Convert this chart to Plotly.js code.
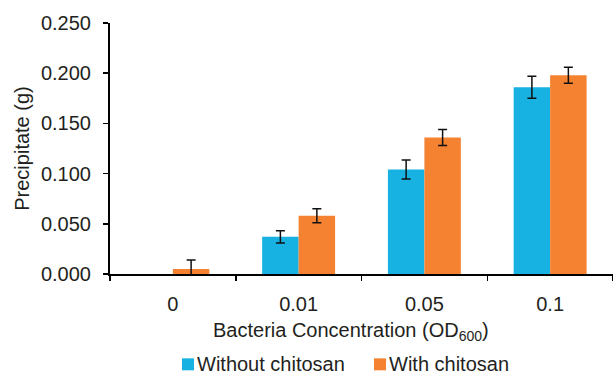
<!DOCTYPE html>
<html>
<head>
<meta charset="utf-8">
<script src="https://cdn.plot.ly/plotly-3.0.1.min.js"></script>
<style>html,body{margin:0;padding:0;background:#fff;}#chart{width:613px;height:374px;}</style>
</head>
<body>
<div id="chart"></div>
<script>
const categories = ["0", "0.01", "0.05", "0.1"];
const seriesNames = ["Without chitosan", "With chitosan"];
const withoutValues = [0, 0.037, 0.104, 0.186];
const withoutErrors = [NaN, 0.006, 0.0095, 0.011];
const withValues = [0.005, 0.058, 0.136, 0.198];
const withErrors = [0.009, 0.007, 0.008, 0.008];
const yTickVals = [0, 0.05, 0.1, 0.15, 0.2, 0.25];
const xTitle = "Bacteria Concentration (OD<sub>600</sub>)";
const yTitle = "Precipitate (g)";

const seriesColors = ["#17b2e2", "#f58231"];
const textColor = "#231f20";
const fontFamily = "Liberation Sans, Arial, sans-serif";

const traces = [
  {
    type: "bar", name: seriesNames[0], x: categories, y: withoutValues,
    marker: {color: seriesColors[0], line: {width: 0}},
    error_y: {type: "data", array: withoutErrors, visible: true, color: "#111", thickness: 1.5, width: 4.5}
  },
  {
    type: "bar", name: seriesNames[1], x: categories, y: withValues,
    marker: {color: seriesColors[1], line: {width: 0}},
    error_y: {type: "data", array: withErrors, visible: true, color: "#111", thickness: 1.5, width: 4.5}
  }
];

// Legend drawn below the axis: a swatch and a label for each series
const legendSwatchX = [0.1431, 0.5249];
const legendTextX = [0.169, 0.5507];
const legendShapes = seriesNames.map((n, i) => ({
  type: "rect", xref: "paper", yref: "paper",
  x0: legendSwatchX[i], x1: legendSwatchX[i] + 0.0239, y0: -0.3837, y1: -0.336,
  fillcolor: seriesColors[i], line: {width: 0}
}));
const legendLabels = seriesNames.map((n, i) => ({
  text: n, xref: "paper", yref: "paper", x: legendTextX[i], y: -0.3598,
  xanchor: "left", yanchor: "middle", showarrow: false,
  font: {size: 20, color: textColor}
}));

const layout = {
  width: 613, height: 374,
  margin: {l: 110, r: 0, t: 23, b: 99.5, autoexpand: false},
  paper_bgcolor: "#fff", plot_bgcolor: "#fff",
  font: {family: fontFamily, size: 20, color: textColor},
  barmode: "group", bargap: 0.42, bargroupgap: 0,
  showlegend: false,
  shapes: legendShapes,
  annotations: [
    {text: xTitle, xref: "paper", yref: "paper", x: 0.479, y: -0.2286,
     xanchor: "center", yanchor: "middle", showarrow: false,
     font: {size: 20, color: textColor}}
  ].concat(legendLabels),
  xaxis: {
    type: "category", showgrid: false, zeroline: false, automargin: false,
    showline: true, linecolor: "#000", linewidth: 2,
    ticks: "outside", tickson: "boundaries", ticklen: 5, tickwidth: 1.5, tickcolor: "#000",
    tickfont: {size: 20, color: textColor}, ticklabelstandoff: 11,
    fixedrange: true
  },
  yaxis: {
    range: [0, 0.25], tickvals: yTickVals, tickformat: ".3f", automargin: false,
    showgrid: false, zeroline: false,
    showline: true, linecolor: "#000", linewidth: 2,
    ticks: "outside", ticklen: 5, tickwidth: 1.5, tickcolor: "#000",
    tickfont: {size: 20, color: textColor}, ticklabelstandoff: 8,
    title: {text: yTitle, font: {size: 20, color: textColor}, standoff: 6},
    fixedrange: true
  }
};

Plotly.newPlot("chart", traces, layout, {displayModeBar: false, staticPlot: true});
</script>
</body>
</html>
